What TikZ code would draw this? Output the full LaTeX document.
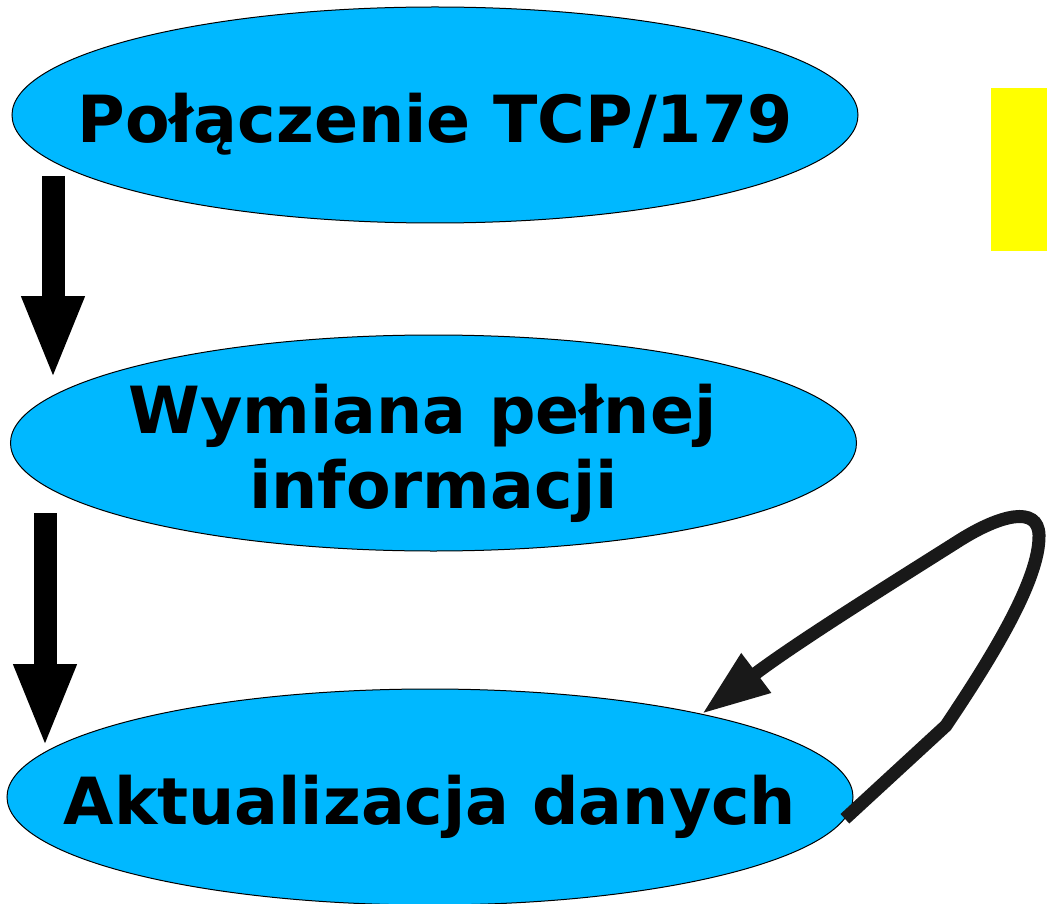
\documentclass[tikz,border=0pt]{standalone}
\usepackage{fontspec}
\setmainfont{DejaVu Sans}
\usetikzlibrary{arrows.meta,positioning,shapes.geometric}

\definecolor{niebieski}{RGB}{0,184,255}
\definecolor{zolty}{RGB}{255,255,0}

\begin{document}
\begin{tikzpicture}[x=0.5pt, y=-0.5pt,
        stan/.style = {draw, ellipse, fill=niebieski, line width=0.5pt, inner sep=0pt,
                       minimum width=423pt, minimum height=108pt},
        napis/.style = {font=\fontsize{32.5}{37.5}\selectfont\bfseries, align=center, inner sep=0pt},
        strzalka/.style = {line width=11.5pt, -{Triangle[length=42pt, width=28.5pt]}},
        petla/.style = {line width=6.5pt, black!90, -{Triangle[length=34pt, width=23pt]}}]
    \useasboundingbox (0,0) rectangle (1047,903);

    % stany
    \node[stan] (pol) at (435,115) {};
    \node[stan] (wym) [below=55.5pt of pol, xshift=-0.75pt] {};
    \node[stan] (akt) [below=68.5pt of wym, xshift=-1.75pt] {};

    \node[napis, anchor=base] (pol-t) at ([yshift=-14pt]pol.center) {Połączenie TCP/179};
    \node[napis, anchor=base] (wym-t) at ([yshift=-32.5pt]wym.center) {Wymiana pełnej\hspace*{11pt}\\informacji};
    \node[napis, anchor=base] (akt-t) at ([yshift=-13.5pt]akt.center) {Aktualizacja danych};

    % przejscia
    \coordinate (s1) at (53,176);
    \coordinate (k1) at (53,380);
    \coordinate (s2) at (45,513);
    \coordinate (k2) at (45,748);
    \draw[strzalka] (s1) -- (k1);
    \draw[strzalka] (s2) -- (k2);

    \draw[petla] (akt.-3) -- ++(101,-93)
        .. controls (990,660) and (1040,580) .. (1039,535)
        .. controls (1038,505) and (1000,515) .. (960,540)
        .. controls (900,578) and (800,640) .. (akt.17);

    \fill[zolty] (991,88) rectangle (1047,251);
\end{tikzpicture}
\end{document}
